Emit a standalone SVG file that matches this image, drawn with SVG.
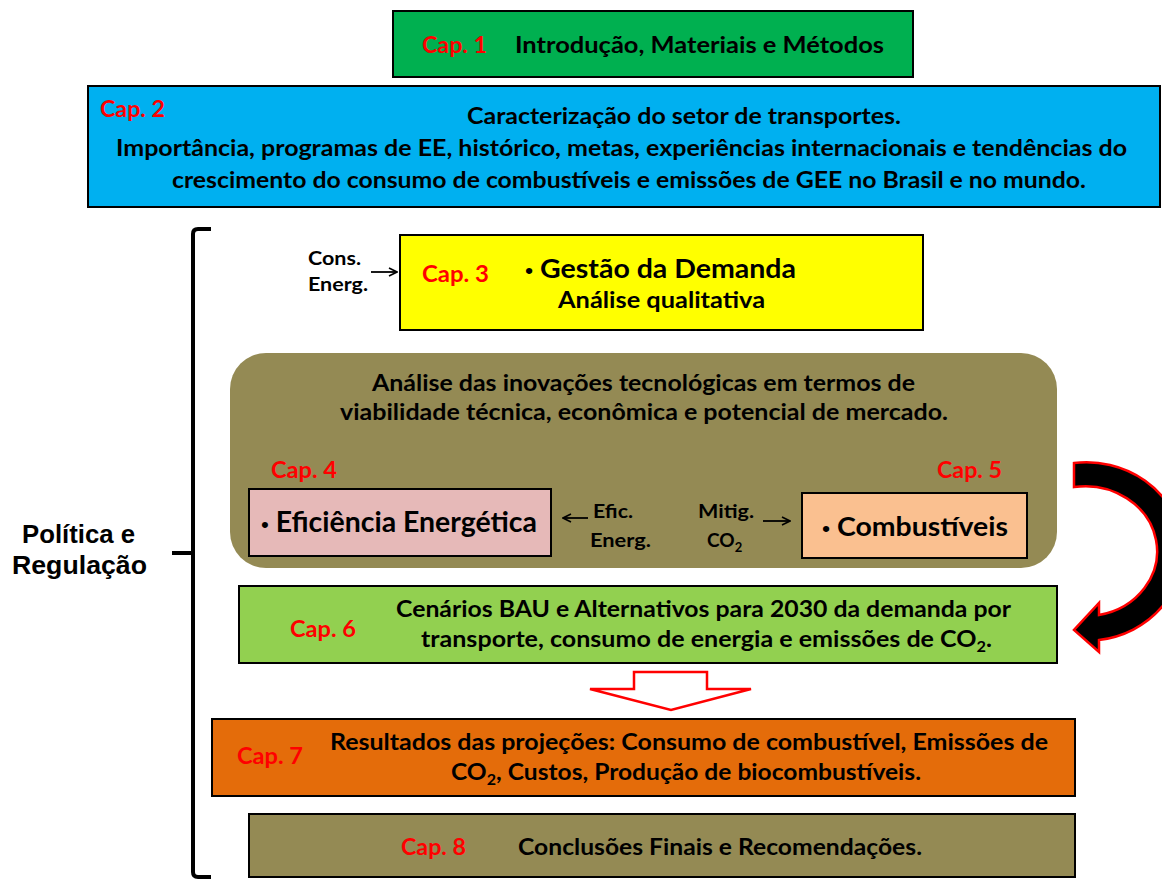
<svg xmlns="http://www.w3.org/2000/svg" width="1162" height="879" viewBox="0 0 1162 879">
<defs>
<style>
.box{stroke:#000;stroke-width:2}
.t{font-family:Lato,"Open Sans",sans-serif;font-weight:bold;fill:#000}
.cap{font-family:Lato,"Open Sans",sans-serif;font-weight:bold;fill:#FF0000;font-size:23px}
.m{font-size:23px}
.s{font-size:19px}
.b{font-family:"Liberation Sans",Arial,sans-serif;font-weight:normal}
.pol{font-family:"Liberation Sans",Arial,sans-serif;font-weight:bold;font-size:26px;fill:#000}
</style>
<marker id="ah" viewBox="0 0 10 10" refX="9" refY="5" markerWidth="10" markerHeight="10" markerUnits="userSpaceOnUse" orient="auto">
<path d="M1 1 L9 5 L1 9" fill="none" stroke="#000" stroke-width="1.6"/>
</marker>
</defs>
<rect width="1162" height="879" fill="#fff"/>

<g id="brace">
<path d="M211 229 L198 229 Q193 229 193 234 L193 872 Q193 877 198 877 L211 877 M172 553 L193 553" fill="none" stroke="#000" stroke-width="4"/>
<text class="pol" x="22" y="543" textLength="113" lengthAdjust="spacingAndGlyphs">Política e</text>
<text class="pol" x="12" y="574" textLength="135" lengthAdjust="spacingAndGlyphs">Regulação</text>
</g>

<g id="cap1">
<rect class="box" x="393" y="11" width="520" height="66" fill="#00B050"/>
<text class="cap" x="422" y="53" textLength="65" lengthAdjust="spacingAndGlyphs">Cap. 1</text>
<text class="t m" x="515" y="53" textLength="369" lengthAdjust="spacingAndGlyphs">Introdução, Materiais e Métodos</text>
</g>

<g id="cap2">
<rect class="box" x="88" y="86" width="1072" height="121" fill="#00B0F0"/>
<text class="cap" x="100" y="117" textLength="65" lengthAdjust="spacingAndGlyphs">Cap. 2</text>
<text class="t m" x="467" y="124" textLength="434" lengthAdjust="spacingAndGlyphs">Caracterização do setor de transportes.</text>
<text class="t m" x="116" y="156" textLength="1011" lengthAdjust="spacingAndGlyphs">Importância, programas de EE, histórico, metas, experiências internacionais e tendências do</text>
<text class="t m" x="172" y="188" textLength="914" lengthAdjust="spacingAndGlyphs">crescimento do consumo de combustíveis e emissões de GEE no Brasil e no mundo.</text>
</g>

<g id="cap3">
<rect class="box" x="400" y="235" width="523" height="95" fill="#FFFF00"/>
<text class="t s" x="308" y="265" textLength="53" lengthAdjust="spacingAndGlyphs">Cons.</text>
<text class="t s" x="308" y="291" textLength="60" lengthAdjust="spacingAndGlyphs">Energ.</text>
<text class="cap" x="422" y="282" textLength="67" lengthAdjust="spacingAndGlyphs">Cap. 3</text>
<text class="t" x="525" y="278" font-size="27" textLength="271" lengthAdjust="spacingAndGlyphs"><tspan class="b" font-size="22">•</tspan> Gestão da Demanda</text>
<text class="t" x="558" y="308" font-size="22" textLength="207" lengthAdjust="spacingAndGlyphs">Análise qualitativa</text>
</g>

<g id="tech">
<rect x="230" y="353" width="827" height="215" rx="36" ry="36" fill="#948A54"/>
<text class="t m" x="372" y="391" textLength="543" lengthAdjust="spacingAndGlyphs">Análise das inovações tecnológicas em termos de</text>
<text class="t m" x="340" y="420" textLength="608" lengthAdjust="spacingAndGlyphs">viabilidade técnica, econômica e potencial de mercado.</text>
</g>

<g id="cap4">
<text class="cap" x="271" y="478" textLength="66" lengthAdjust="spacingAndGlyphs">Cap. 4</text>
<rect class="box" x="249" y="489" width="302" height="67" fill="#E6B9B8"/>
<text class="t" x="261" y="532" font-size="28" textLength="276" lengthAdjust="spacingAndGlyphs"><tspan class="b" font-size="22">•</tspan> Eficiência Energética</text>
</g>

<g id="cap5">
<text class="cap" x="937" y="478" textLength="65" lengthAdjust="spacingAndGlyphs">Cap. 5</text>
<rect class="box" x="802" y="493" width="225" height="65" fill="#FAC090"/>
<text class="t" x="822" y="536" font-size="27" textLength="186" lengthAdjust="spacingAndGlyphs"><tspan class="b" font-size="22">•</tspan> Combustíveis</text>
</g>

<g id="labels">
<text class="t s" x="593" y="518" textLength="40" lengthAdjust="spacingAndGlyphs">Efic.</text>
<text class="t s" x="590" y="547" textLength="61" lengthAdjust="spacingAndGlyphs">Energ.</text>
<text class="t s" x="698" y="518" textLength="56" lengthAdjust="spacingAndGlyphs">Mitig.</text>
<text class="t s" x="707" y="547">CO<tspan font-size="13" dy="5">2</tspan></text>
</g>

<g id="cap6">
<rect class="box" x="239" y="586" width="818" height="77" fill="#92D050"/>
<text class="cap" x="290" y="637" textLength="66" lengthAdjust="spacingAndGlyphs">Cap. 6</text>
<text class="t m" x="396" y="617" textLength="615" lengthAdjust="spacingAndGlyphs">Cenários BAU e Alternativos para 2030 da demanda por</text>
<text class="t m" x="421" y="647" textLength="571" lengthAdjust="spacingAndGlyphs">transporte, consumo de energia e emissões de CO<tspan font-size="15" dy="5">2</tspan><tspan dy="-5">.</tspan></text>
</g>

<g id="cap7">
<rect class="box" x="212" y="719" width="863" height="77" fill="#E46C0A"/>
<text class="cap" x="237" y="764" textLength="66" lengthAdjust="spacingAndGlyphs">Cap. 7</text>
<text class="t m" x="330" y="750" textLength="718" lengthAdjust="spacingAndGlyphs">Resultados das projeções: Consumo de combustível, Emissões de</text>
<text class="t m" x="451" y="780" textLength="470" lengthAdjust="spacingAndGlyphs">CO<tspan font-size="15" dy="5">2</tspan><tspan dy="-5">, Custos, Produção de biocombustíveis.</tspan></text>
</g>

<g id="cap8">
<rect class="box" x="249" y="814" width="826" height="63" fill="#948A54"/>
<text class="cap" x="401" y="855" textLength="65" lengthAdjust="spacingAndGlyphs">Cap. 8</text>
<text class="t m" x="518" y="855" textLength="404" lengthAdjust="spacingAndGlyphs">Conclusões Finais e Recomendações.</text>
</g>

<g id="connectors">
<line x1="371" y1="272" x2="397" y2="272" stroke="#000" stroke-width="1.8" marker-end="url(#ah)"/>
<line x1="588" y1="518" x2="563" y2="518" stroke="#000" stroke-width="1.8" marker-end="url(#ah)"/>
<line x1="763" y1="521" x2="790" y2="521" stroke="#000" stroke-width="1.8" marker-end="url(#ah)"/>
<path d="M1074 463 A96 89 0 0 1 1099 640 L1099 652 L1074 630 L1099 603 L1099 615 A72 65 0 0 0 1074 487 Z" fill="#000" stroke="#FF0000" stroke-width="2.5" stroke-linejoin="miter"/>
<polygon points="634,672 707,672 707,689 751,689 671,710 590,689 634,689" fill="#fff" stroke="#FF0000" stroke-width="2.5"/>
</g>
</svg>
